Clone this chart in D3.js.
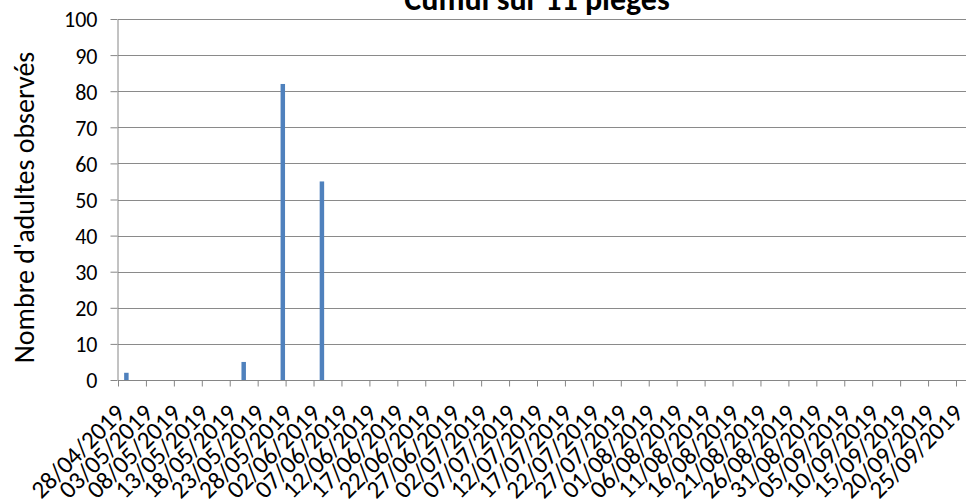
<!DOCTYPE html>
<html>
<head>
<meta charset="utf-8">
<script src="https://cdn.jsdelivr.net/npm/d3@7"></script>
<style>
    body { margin: 0; background: #fff; }
    text { font-family: Carlito, Calibri, Lato, sans-serif; fill: #000; }
</style>
</head>
<body>
<script>
// data
var titre = "Cumul sur 11 pièges";
var titreY = "Nombre d'adultes observés";
var dates = ["29/04/2019", "20/05/2019", "27/05/2019", "03/06/2019"];
var adultes = [2, 5, 82, 55];
var yTicks = [0, 10, 20, 30, 40, 50, 60, 70, 80, 90, 100];
var xTickLabels = ["28/04/2019", "03/05/2019", "08/05/2019", "13/05/2019", "18/05/2019",
    "23/05/2019", "28/05/2019", "02/06/2019", "07/06/2019", "12/06/2019", "17/06/2019",
    "22/06/2019", "27/06/2019", "02/07/2019", "07/07/2019", "12/07/2019", "17/07/2019",
    "22/07/2019", "27/07/2019", "01/08/2019", "06/08/2019", "11/08/2019", "16/08/2019",
    "21/08/2019", "26/08/2019", "31/08/2019", "05/09/2019", "10/09/2019", "15/09/2019",
    "20/09/2019", "25/09/2019"];

var width = 966, height = 500;
var margin = {top: 19, left: 118, right: 10, bottom: 120};

var parse = d3.timeParse("%d/%m/%Y");
var fmt = d3.timeFormat("%d/%m/%Y");
var tickDates = xTickLabels.map(parse);

var svg = d3.select("body").append("svg")
    .attr("width", width)
    .attr("height", height)

var x = d3.scaleTime()
    .domain([tickDates[0], tickDates[tickDates.length - 1]])
    .range([margin.left, width - margin.right])

var y = d3.scaleLinear()
    .domain([0, 100])
    .range([height - margin.bottom, margin.top])

var jour = x(d3.timeDay.offset(tickDates[0], 1)) - x(tickDates[0]);

// gridlines
svg.append("g")
    .selectAll("line")
    .data(yTicks.filter(function(d) { return d > 0; }))
    .enter().append("line")
    .attr("x1", margin.left)
    .attr("x2", width)
    .attr("y1", function(d) { return Math.round(y(d)) + 0.5; })
    .attr("y2", function(d) { return Math.round(y(d)) + 0.5; })
    .attr("stroke", "#8a8a8a")
    .attr("stroke-width", 1)

// bars
svg.append("g")
    .selectAll("rect")
    .data(adultes)
    .enter().append("rect")
    .attr("x", function(d, i) { return x(parse(dates[i])) + jour * 0.1; })
    .attr("width", jour * 0.8)
    .attr("y", function(d) { return y(d); })
    .attr("height", function(d) { return y(0) - y(d); })
    .attr("fill", "#4f81bd")

// x axis
var xAxis = svg.append("g")
    .attr("transform", "translate(0," + (Math.round(y(0)) + 0.5) + ")")
    .call(d3.axisBottom(x).tickValues(tickDates).tickFormat(fmt).tickSize(6).tickSizeOuter(0))
xAxis.select(".domain").attr("d", "M" + margin.left + ",0H" + width).attr("stroke", "#868686")
xAxis.selectAll(".tick line").attr("stroke", "#868686")
xAxis.selectAll(".tick text")
    .attr("y", 0)
    .attr("dy", 0)
    .attr("text-anchor", "end")
    .attr("transform", "translate(8,34) rotate(-45)")
    .style("font-size", "25px")

// y axis
var yAxis = svg.append("g")
    .attr("transform", "translate(" + (margin.left - 0.5) + ",0)")
    .call(d3.axisLeft(y).tickValues(yTicks).tickSize(7).tickSizeOuter(0))
yAxis.select(".domain").attr("stroke", "#868686")
yAxis.selectAll(".tick line").attr("stroke", "#868686")
yAxis.selectAll(".tick text")
    .attr("x", -20)
    .attr("dy", "0.36em")
    .style("font-size", "22px")

// titles
svg.append("text")
    .attr("x", 537)
    .attr("y", 10)
    .attr("text-anchor", "middle")
    .style("font-size", "32px")
    .style("font-weight", "bold")
    .text(titre)

svg.append("text")
    .attr("transform", "translate(34," + (y(50) + 8) + ") rotate(-90)")
    .attr("text-anchor", "middle")
    .style("font-size", "28px")
    .text(titreY)
</script>
</body>
</html>
